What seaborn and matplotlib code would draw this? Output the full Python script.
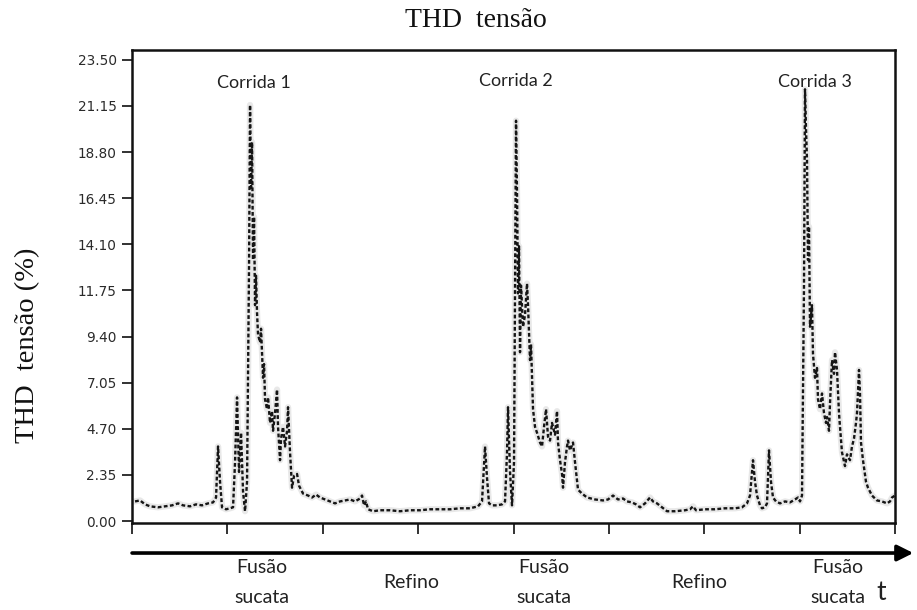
import matplotlib
matplotlib.use("Agg")
import matplotlib.pyplot as plt
import seaborn as sns
import pandas as pd
import numpy as np

# ---------------- data ----------------
time = [3, 8, 13, 18, 26, 33, 40, 46, 51, 58, 64, 70, 76, 81, 84, 86, 88, 90, 94, 98,
        101, 103, 105, 107, 109, 111, 113, 115, 117, 118, 119, 120, 121, 122, 123, 124, 125, 126, 128, 129,
        131, 132, 133, 135, 136, 138, 140, 141, 143, 145, 146, 148, 149, 151, 153, 155, 156, 158, 160, 162,
        165, 167, 171, 176, 180, 184, 188, 193, 198, 203, 208, 213, 218, 223, 228, 230, 232, 234, 236, 241,
        248, 258, 268, 278, 288, 298, 308, 318, 328, 338, 346, 350, 353, 355, 357, 360, 365, 370, 373, 375,
        376, 378, 380, 382, 384, 385, 386, 387, 388, 389, 391, 393, 395, 396, 398, 399, 401, 403, 405, 408,
        410, 412, 414, 416, 418, 420, 421, 423, 425, 426, 428, 430, 431, 433, 435, 436, 438, 441, 443, 446,
        450, 455, 463, 471, 476, 481, 486, 491, 495, 500, 504, 508, 513, 518, 521, 525, 530, 535, 543, 553,
        558, 561, 564, 573, 583, 593, 603, 610, 615, 618, 621, 623, 625, 628, 630, 633, 635, 637, 639, 641,
        644, 648, 653, 658, 663, 666, 668, 670, 672, 673, 674, 675, 676, 677, 678, 680, 681, 683, 685, 686,
        688, 690, 692, 694, 695, 697, 698, 700, 702, 703, 705, 707, 708, 710, 713, 715, 718, 720, 722, 724,
        725, 727, 728, 729, 731, 734, 736, 740, 745, 750, 755, 758, 760, 763]

thd = [1.0, 1.05, 0.85, 0.75, 0.7, 0.75, 0.8, 0.9, 0.8, 0.75, 0.85, 0.8, 0.9, 0.95, 1.2, 3.8, 2.0, 0.7, 0.6, 0.65,
       0.7, 3.0, 6.3, 2.5, 4.5, 1.5, 0.5, 2.0, 13.0, 21.2, 17.0, 19.3, 13.3, 15.5, 11.0, 12.5, 10.6, 9.5, 9.1, 9.8,
       7.3, 8.0, 6.2, 5.7, 6.3, 5.0, 5.6, 4.6, 5.5, 6.7, 4.8, 3.1, 4.2, 4.8, 3.8, 4.6, 5.8, 3.5, 1.7, 2.3,
       2.4, 1.8, 1.4, 1.3, 1.2, 1.35, 1.2, 1.1, 1.0, 0.9, 1.0, 1.05, 1.1, 1.0, 1.15, 1.3, 0.8, 1.0, 0.6, 0.5,
       0.55, 0.55, 0.5, 0.55, 0.55, 0.6, 0.6, 0.6, 0.65, 0.65, 0.75, 1.0, 3.8, 2.2, 0.9, 0.8, 0.8, 0.85, 1.0, 3.5,
       5.8, 2.5, 0.8, 3.0, 20.4, 16.7, 11.6, 14.0, 8.6, 12.0, 9.9, 10.5, 12.1, 11.0, 8.2, 9.0, 5.7, 4.8, 4.5, 4.0,
       3.8, 4.8, 5.7, 4.3, 4.1, 5.0, 4.8, 4.4, 5.6, 4.0, 3.1, 2.4, 1.7, 3.0, 3.8, 4.1, 3.6, 4.0, 3.0, 1.6,
       1.4, 1.2, 1.1, 1.05, 1.1, 1.3, 1.1, 1.15, 1.0, 0.95, 0.85, 0.7, 0.9, 1.2, 1.0, 0.9, 0.7, 0.5, 0.5, 0.55,
       0.6, 0.75, 0.55, 0.6, 0.6, 0.65, 0.65, 0.7, 0.9, 1.3, 3.1, 2.0, 1.3, 0.8, 0.65, 0.7, 0.9, 3.6, 2.0, 1.2,
       1.0, 0.9, 1.0, 0.95, 1.1, 1.2, 1.0, 1.3, 12.0, 22.0, 20.0, 18.4, 13.3, 15.0, 9.9, 11.0, 8.5, 7.3, 7.8, 6.2,
       5.7, 6.5, 5.5, 5.0, 5.3, 4.6, 6.0, 8.2, 7.5, 8.6, 7.7, 5.5, 4.8, 3.5, 2.8, 3.4, 3.1, 3.8, 4.2, 5.0,
       5.5, 7.7, 6.5, 4.0, 3.1, 2.0, 1.7, 1.3, 1.05, 1.0, 0.9, 1.0, 1.2, 1.3]

ytick_values = [0.00, 2.35, 4.70, 7.05, 9.40, 11.75, 14.10, 16.45, 18.80, 21.15, 23.50]
ytick_labels = ["0.00", "2.35", "4.70", "7.05", "9.40", "11.75", "14.10", "16.45", "18.80", "21.15", "23.50"]

corrida_labels = ["Corrida 1", "Corrida 2", "Corrida 3"]
corrida_time = [122, 384, 683]
corrida_level = [22.3, 22.4, 22.35]

phase_labels = ["Fusão\nsucata", "Refino", "Fusão\nsucata", "Refino", "Fusão\nsucata"]

title_text = "THD  tensão"
ylabel_text = "THD  tensão (%)"

df = pd.DataFrame({"t": time, "thd": thd})

# ---------------- figure ----------------
sns.set_theme(style="white")
plt.rcParams["font.family"] = ["Lato", "DejaVu Sans"]

fig = plt.figure(figsize=(9.17, 6.10), dpi=100)
ax = fig.add_axes([0.144, 0.1426, 0.832, 0.7754])

# soft grey halo (scanned look) + dotted black trace
sns.lineplot(data=df, x="t", y="thd", ax=ax, color="#9a9a9a", linewidth=4.5, alpha=0.22,
             estimator=None, sort=False)
sns.lineplot(data=df, x="t", y="thd", ax=ax, color="#151515", linewidth=1.7,
             linestyle=(0, (1.6, 1.0)), estimator=None, sort=False)

ax.set_xlim(0, 763)
ax.set_ylim(-0.1, 24.0)
ax.set_xlabel("")
ax.set_ylabel("")

ax.set_xticks(np.linspace(0, 763, 9))
ax.set_xticklabels([])
ax.set_yticks(ytick_values)
ax.set_yticklabels(ytick_labels, family=["Liberation Sans Narrow", "DejaVu Sans"],
                   fontsize=9.8, color="#2a2a2a")
ax.tick_params(axis="x", direction="out", length=8, width=1.3, color="#222222", bottom=True)
ax.tick_params(axis="y", direction="out", length=7, width=1.3, color="#222222", left=True, pad=4)

for sp in ax.spines.values():
    sp.set_linewidth(1.8)
    sp.set_color("#111111")

# run labels
for lab, tx, ty in zip(corrida_labels, corrida_time, corrida_level):
    ax.text(tx, ty, lab, ha="center", va="center", fontsize=13, color="#222222",
            family=["Lato", "DejaVu Sans"])

# title and y label (serif)
fig.text(0.519, 0.966, title_text, ha="center", va="center", fontsize=20,
         family=["Liberation Serif", "DejaVu Serif"], color="#111111")
fig.text(0.030, 0.434, ylabel_text, ha="center", va="center", rotation=90, fontsize=20.5,
         family=["Liberation Serif", "DejaVu Serif"], color="#111111")

# time arrow
ax.annotate("", xy=(0.996, 0.0934), xytext=(0.144, 0.0934),
            xycoords="figure fraction", textcoords="figure fraction",
            arrowprops=dict(arrowstyle="-|>", lw=2.6, color="black", mutation_scale=24,
                            shrinkA=0, shrinkB=0),
            annotation_clip=False)

# phase labels under the arrow
phase_x = [0.2857, 0.4482, 0.5932, 0.7623, 0.9139]
for lab, px in zip(phase_labels, phase_x):
    if "\n" in lab:
        top, bottom = lab.split("\n")
        fig.text(px, 0.0689, top, ha="center", va="center", fontsize=14, color="#222222",
                 family=["Lato", "DejaVu Sans"])
        fig.text(px, 0.0197, bottom, ha="center", va="center", fontsize=14, color="#222222",
                 family=["Lato", "DejaVu Sans"])
    else:
        fig.text(px, 0.0459, lab, ha="center", va="center", fontsize=14, color="#222222",
                 family=["Lato", "DejaVu Sans"])
fig.text(0.9607, 0.0295, "t", ha="center", va="center", fontsize=19, color="#222222",
         family=["Lato", "DejaVu Sans"])

fig.savefig("out.png", dpi=100, facecolor="white")
